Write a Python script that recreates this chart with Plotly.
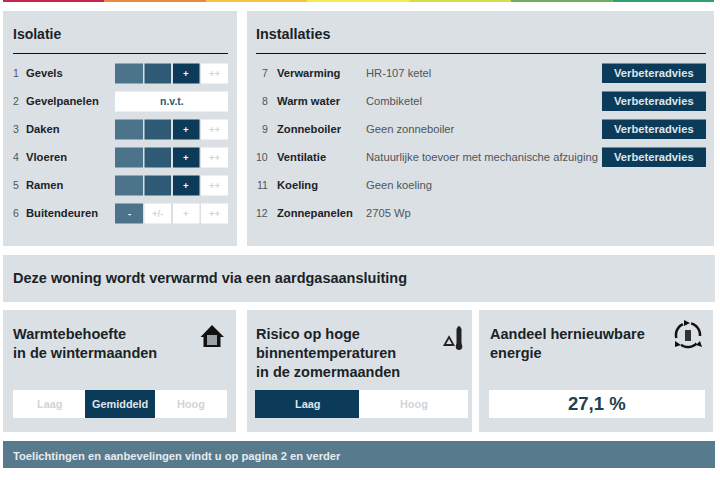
#!/usr/bin/env python3
# -*- coding: utf-8 -*-

import math

import plotly.graph_objects as go

# --- content ---
strip_colors = ["#c8274d", "#e8893f", "#f5c543", "#f7ea4d", "#d9dc4a", "#6fae5a", "#2f9e70"]

isolatie_nums = [1, 2, 3, 4, 5, 6]
isolatie_names = ["Gevels", "Gevelpanelen", "Daken", "Vloeren", "Ramen", "Buitendeuren"]
# index of the active cell per row, None = n.v.t.
isolatie_levels = [2, None, 2, 2, 2, 0]
rating_labels = ["-", "+/-", "+", "++"]

install_nums = [7, 8, 9, 10, 11, 12]
install_names = ["Verwarming", "Warm water", "Zonneboiler", "Ventilatie", "Koeling", "Zonnepanelen"]
install_values = [
    "HR-107 ketel",
    "Combiketel",
    "Geen zonneboiler",
    "Natuurlijke toevoer met mechanische afzuiging",
    "Geen koeling",
    "2705 Wp",
]
install_advice = [True, True, True, True, False, False]
advice_label = "Verbeteradvies"

banner_text = "Deze woning wordt verwarmd via een aardgasaansluiting"
footer_text = "Toelichtingen en aanbevelingen vindt u op pagina 2 en verder"
winter_title = "Warmtebehoefte<br>in de wintermaanden"
winter_options = ["Laag", "Gemiddeld", "Hoog"]
winter_active = 1
summer_title = "Risico op hoge<br>binnentemperaturen<br>in de zomermaanden"
summer_options = ["Laag", "Hoog"]
summer_active = 0
renew_title = "Aandeel hernieuwbare<br>energie"
renew_value = "27,1 %"

# --- styling ---
FONT = "Liberation Sans"
PANEL = "#dbe0e4"
DARK = "#0c3b59"
MID = "#2f5a75"
LIGHT = "#4b7389"
FOOT = "#587a8d"
INK = "#1a2328"
GREY = "#4c565c"
FAINT = "#cfd5d9"

ROWS_Y = [73.5, 101.5, 129.5, 157.5, 185.5, 213.5]
CELLS_X = [(115, 143), (144.5, 171), (173, 199.5), (201, 228)]

shapes = []
annots = []


def rect(x0, y0, x1, y1, color):
    shapes.append(dict(type="rect", x0=x0, y0=y0, x1=x1, y1=y1,
                       fillcolor=color, line=dict(width=0), layer="below"))


def hline(x0, x1, y, color, width):
    shapes.append(dict(type="line", x0=x0, x1=x1, y0=y, y1=y, line=dict(color=color, width=width)))


def path(d, fill=None, line=None, width=0):
    s = dict(type="path", path=d, line=dict(width=width, color=line or "rgba(0,0,0,0)"))
    if fill:
        s["fillcolor"] = fill
    shapes.append(s)


def text(x, y, s, size=10, color=INK, bold=False, anchor="left"):
    # annotations carry 2px of padding, take it back so x is the real text edge
    shift = {"left": -2, "right": 2}.get(anchor, 0)
    annots.append(dict(x=x, xshift=shift, y=y, yshift=0.5, text=f"<b>{s}</b>" if bold else s, showarrow=False,
                       xanchor=anchor, yanchor="middle", align=anchor,
                       font=dict(family=FONT, size=size, color=color)))


def arc(cx, cy, r, a0, a1):
    pts = []
    for i in range(13):
        a = math.radians(a0 + (a1 - a0) * i / 12)
        pts.append((cx + r * math.cos(a), cy + r * math.sin(a)))
    return "M" + " L".join(f"{x:.1f},{y:.1f}" for x, y in pts)


# top colour strip
strip_w = 711 / len(strip_colors)
for i, c in enumerate(strip_colors):
    rect(3 + i * strip_w, 0, 3 + (i + 1) * strip_w, 2, c)

# panels
rect(3, 11, 237, 246, PANEL)
rect(247, 11, 714, 246, PANEL)
rect(3, 255, 715, 302, PANEL)
rect(3, 310, 236, 432, PANEL)
rect(247, 310, 472, 432, PANEL)
rect(479, 310, 713, 432, PANEL)
rect(3, 441, 715, 468, FOOT)

# isolatie
text(13, 34, "Isolatie", 14, bold=True)
hline(13, 228, 53.5, "#111111", 1.2)
for n, name, lev, y in zip(isolatie_nums, isolatie_names, isolatie_levels, ROWS_Y):
    text(13, y, str(n), 10.5, GREY)
    text(26, y, name, 11.2, INK, bold=True)
    if lev is None:
        rect(115, y - 10, 228, y + 10, "white")
        text(171.5, y, "n.v.t.", 10.5, MID, bold=True, anchor="center")
        continue
    for i, ((x0, x1), lab) in enumerate(zip(CELLS_X, rating_labels)):
        if i > lev:
            rect(x0, y - 10, x1, y + 10, "white")
            text((x0 + x1) / 2, y, lab, 9.5, FAINT, bold=True, anchor="center")
        elif i == lev:
            rect(x0, y - 10, x1, y + 10, DARK if lev > 0 else LIGHT)
            text((x0 + x1) / 2, y, lab, 9.5, "white", bold=True, anchor="center")
        else:
            rect(x0, y - 10, x1, y + 10, LIGHT if i == 0 else MID)

# installaties
text(256, 34, "Installaties", 14.4, bold=True)
hline(256, 706, 53.5, "#111111", 1.2)
for n, name, val, adv, y in zip(install_nums, install_names, install_values, install_advice, ROWS_Y):
    text(268, y, str(n), 10.5, GREY, anchor="right")
    text(277, y, name, 11.2, INK, bold=True)
    text(366, y, val, 11.2, GREY)
    if adv:
        rect(602, y - 10, 706, y + 9.5, DARK)
        text(654, y, advice_label, 11.2, "#dfe6ea", bold=True, anchor="center")

# banner and footer
text(13, 278.5, banner_text, 14.5, INK, bold=True)
text(13, 456, footer_text, 11.2, "#e6ecef", bold=True)

# lower panels
text(13, 344, winter_title, 14.5, INK, bold=True)
text(256, 353.5, summer_title, 14.5, INK, bold=True)
text(490, 344, renew_title, 14.5, INK, bold=True)

winter_x = [(13, 85), (85, 155), (155, 227)]
for i, ((x0, x1), lab) in enumerate(zip(winter_x, winter_options)):
    on = i == winter_active
    rect(x0, 390, x1, 418, DARK if on else "white")
    text((x0 + x1) / 2, 404.5, lab, 10.9, "#dfe6ea" if on else FAINT, bold=True, anchor="center")

summer_x = [(255, 359), (359, 468)]
for i, ((x0, x1), lab) in enumerate(zip(summer_x, summer_options)):
    on = i == summer_active
    rect(x0, 390, x1, 418, DARK if on else "white")
    text((x0 + x1) / 2, 404.5, lab, 10.9, "#dfe6ea" if on else FAINT, bold=True, anchor="center")

rect(489, 390, 705, 418, "white")
text(597, 404, renew_value, 18.5, "#24404f", bold=True, anchor="center")

# house icon
path("M212,325 L224,337 L220.5,337 L220.5,347 L203.5,347 L203.5,337 L200.5,337 Z", fill="#111111")
path("M207,335 L217,335 L217,345 L207,345 Z", fill="#9aa0a4")

# thermometer icon with warning triangle
path("M456.5,329 Q459,323 461.5,329 L461.5,343 Q464,350 459,350 Q454,350 456.5,343 Z", fill="#222222")
path("M449,337 L453.5,345 L444.5,345 Z", line="#222222", width=1.8)

# renewable energy icon
for a0, a1 in [(-75, 5), (45, 125), (165, 245)]:
    path(arc(688, 335, 12, a0, a1), line="#111111", width=2.5)
path("M685,330 L691,330 L691,341 L685,341 Z", fill="#333333")
path("M684,320 L690,323 L684,326 Z", fill="#111111")
path("M700,341 L702,347 L696,345 Z", fill="#111111")
path("M675,341 L675,347 L681,345 Z", fill="#111111")

fig = go.Figure()
fig.update_layout(
    width=720,
    height=480,
    margin=dict(l=0, r=0, t=0, b=0),
    paper_bgcolor="white",
    plot_bgcolor="white",
    showlegend=False,
    shapes=shapes,
    annotations=annots,
    xaxis=dict(range=[0, 720], visible=False, fixedrange=True),
    yaxis=dict(range=[480, 0], visible=False, fixedrange=True),
)
# page body has a default margin, which would shift everything by 8px
fig.write_html("out.html", config=dict(displayModeBar=False),
               post_script="document.body.style.margin='0';document.documentElement.style.overflow='hidden';")
